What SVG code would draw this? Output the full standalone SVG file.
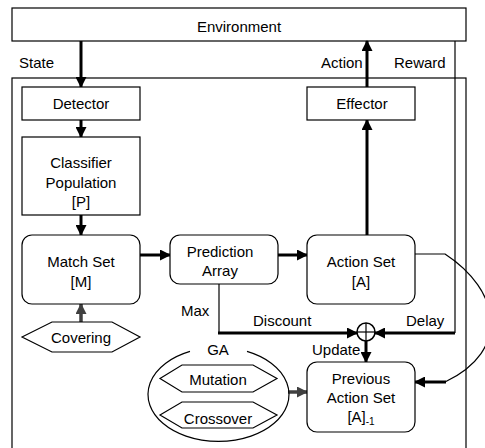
<svg xmlns="http://www.w3.org/2000/svg" width="485" height="448" viewBox="0 0 485 448">
<style>
text{font-family:"Liberation Sans",Arial,sans-serif;font-size:15px;fill:#000}
.c{text-anchor:middle}
.box{fill:#fff;stroke:#000;stroke-width:1.2}
.thin{fill:none;stroke:#000;stroke-width:1.2}
.thick{fill:none;stroke:#000;stroke-width:3}
.gray{fill:none;stroke:#404040;stroke-width:3.5}
</style>
<defs>
<marker id="ah" markerUnits="userSpaceOnUse" markerWidth="11" markerHeight="11" refX="10" refY="5.5" orient="auto" viewBox="0 0 11 11"><path d="M0,0 L11,5.5 L0,11 z" fill="#000"/></marker>
<marker id="ag" markerUnits="userSpaceOnUse" markerWidth="11" markerHeight="11" refX="10" refY="5.5" orient="auto" viewBox="0 0 11 11"><path d="M0,0 L11,5.5 L0,11 z" fill="#404040"/></marker>
</defs>
<rect width="485" height="448" fill="#fff"/>
<g id="system"><rect class="box" x="12" y="78" width="454" height="390"/></g>
<g id="environment"><rect class="box" x="12" y="8" width="454" height="33"/><text class="c" x="239" y="32">Environment</text></g>
<g id="labels">
<text x="19" y="68">State</text>
<text x="321" y="68">Action</text>
<text x="394" y="68">Reward</text>
<text x="181" y="316">Max</text>
<text x="253" y="326">Discount</text>
<text x="406" y="326">Delay</text>
<text x="312" y="355">Update</text>
</g>
<g id="connectors">
<line class="thick" x1="81" y1="41" x2="81" y2="87" marker-end="url(#ah)"/>
<line class="thick" x1="81" y1="120" x2="81" y2="137" marker-end="url(#ah)"/>
<line class="thick" x1="81" y1="215" x2="81" y2="235" marker-end="url(#ah)"/>
<line class="thick" x1="140" y1="255" x2="170" y2="255" marker-end="url(#ah)"/>
<line class="thick" x1="278" y1="255" x2="307" y2="255" marker-end="url(#ah)"/>
<line class="thick" x1="367" y1="235" x2="367" y2="120" marker-end="url(#ah)"/>
<line class="thick" x1="367" y1="87" x2="367" y2="41" marker-end="url(#ah)"/>
<line class="thin" x1="455" y1="41" x2="455" y2="333"/>
<line class="thick" x1="455" y1="333" x2="375" y2="333" marker-end="url(#ah)"/>
<line class="thin" x1="219" y1="284" x2="219" y2="333"/>
<line class="thick" x1="218" y1="333" x2="357" y2="333" marker-end="url(#ah)"/>
<line class="thick" x1="366" y1="341" x2="366" y2="362" marker-end="url(#ah)"/>
<path class="thin" d="M415,254 H445 C500,290 512,350 445,382"/>
<line class="thick" x1="446" y1="382" x2="415" y2="382" marker-end="url(#ah)"/>
<line class="gray" x1="81" y1="322" x2="81" y2="304" marker-end="url(#ag)"/>
<line class="gray" x1="288" y1="392" x2="307" y2="392" marker-end="url(#ag)"/>
</g>
<g id="sum"><circle cx="366" cy="332" r="9" fill="#fff" stroke="#000" stroke-width="1.5"/><line class="thin" x1="357" y1="332" x2="375" y2="332"/><line class="thin" x1="366" y1="323" x2="366" y2="341"/></g>
<g id="detector"><rect class="box" x="22" y="87" width="118" height="33"/><text class="c" x="81" y="109">Detector</text></g>
<g id="effector"><rect class="box" x="307" y="87" width="108" height="33"/><text class="c" x="362" y="109">Effector</text></g>
<g id="population"><rect class="box" x="22" y="137" width="118" height="78"/><text class="c" x="81" y="168">Classifier</text><text class="c" x="81" y="187.5">Population</text><text class="c" x="81" y="207">[P]</text></g>
<g id="matchset"><rect class="box" x="22" y="235" width="118" height="69" rx="10"/><text class="c" x="81" y="267">Match Set</text><text class="c" x="81" y="287">[M]</text></g>
<g id="prediction"><rect class="box" x="170" y="235" width="108" height="49" rx="10"/><text class="c" x="220" y="257">Prediction</text><text class="c" x="220" y="276">Array</text></g>
<g id="actionset"><rect class="box" x="307" y="235" width="108" height="69" rx="10"/><text class="c" x="361" y="267">Action Set</text><text class="c" x="361" y="287">[A]</text></g>
<g id="covering"><polygon class="box" points="22,337 52,322 112,322 140,337 112,352 52,352"/><text class="c" x="81" y="343">Covering</text></g>
<g id="ga">
<text class="c" x="218" y="355">GA</text>
<polygon class="box" points="160,378.5 182,365 253,365 277,378.5 253,392 182,392"/><text class="c" x="218" y="385">Mutation</text>
<polygon class="box" points="160,415 182,402 253,402 277,415 253,428 182,428"/><text class="c" x="218" y="424">Crossover</text>
<path class="thin" d="M247,351.4 A70.5,47 0 1,1 190,351.4"/>
</g>
<g id="prevactionset"><rect class="box" x="307" y="362" width="108" height="70" rx="10"/><text class="c" x="361" y="384">Previous</text><text class="c" x="361" y="403">Action Set</text><text class="c" x="361" y="422">[A]<tspan font-size="10" dy="3">-1</tspan></text></g>
</svg>
